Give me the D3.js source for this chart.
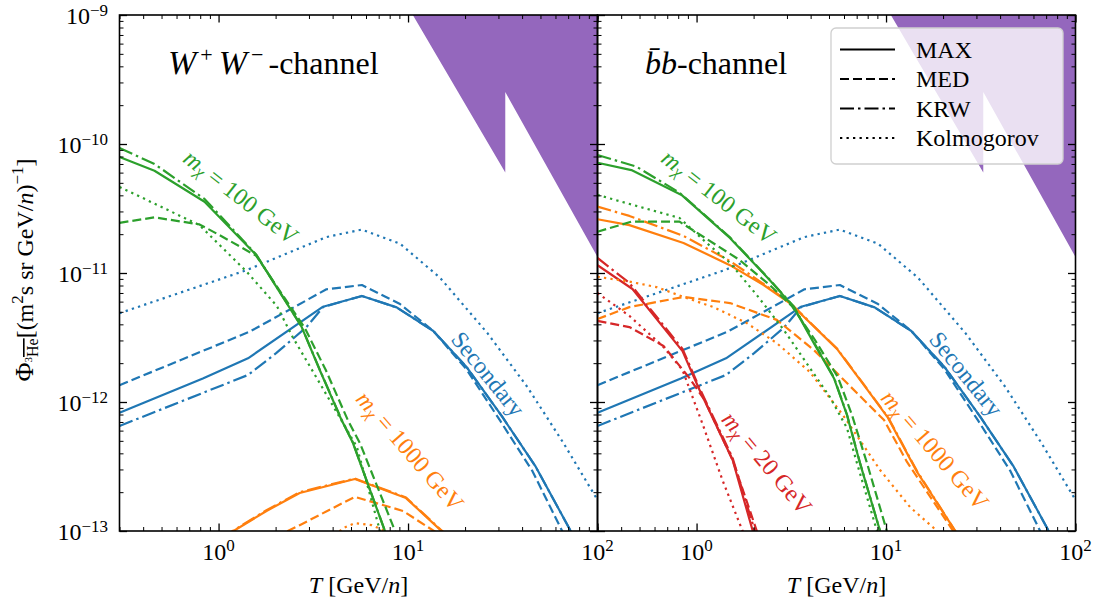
<!DOCTYPE html>
<html><head><meta charset="utf-8">
<script src="https://cdn.jsdelivr.net/npm/d3@7"></script>
<style>
body{margin:0;background:#fff;}
svg{display:block;font-family:"Liberation Serif","DejaVu Serif",serif;}
</style></head><body>
<svg id="c" width="1097" height="602"></svg>
<script>
// ---------------- DATA (T [GeV/n], flux) ----------------
const xTickExps = [0, 1, 2];
const yTickExps = [-13, -12, -11, -10, -9];
const legendLabels = ["MAX", "MED", "KRW", "Kolmogorov"];

// Secondary (same in both panels)
const secMAX = [[0.3,8.26e-13],[0.826,1.52e-12],[1.43,2.18e-12],[3.56,5.48e-12],[5.71,6.64e-12],[8.71,5.41e-12],[13.6,3.55e-12],[20.3,1.88e-12],[31.4,7.69e-13],[47.2,3.15e-13],[72.2,1.0e-13],[83.3,6.5e-14]];
const secMED = [[0.3,1.35e-12],[1.46,3.51e-12],[3.71,7.48e-12],[5.71,8.07e-12],[9.07,5.75e-12],[13.6,3.55e-12],[20.3,1.80e-12],[30.7,7.13e-13],[45.3,2.92e-13],[65.1,1.0e-13],[73.8,6.5e-14]];
const secKRW = [[0.3,6.52e-13],[1.43,1.62e-12],[2.02,2.40e-12],[2.91,3.81e-12],[3.56,5.44e-12],[5.71,6.64e-12],[8.71,5.41e-12],[13.6,3.55e-12],[20.3,1.88e-12],[31.4,7.69e-13],[47.2,3.15e-13],[72.2,1.0e-13],[83.3,6.5e-14]];
const secKol = [[0.3,4.88e-12],[1.40,1.05e-11],[3.71,1.90e-11],[5.69,2.17e-11],[9.07,1.69e-11],[14.8,9.14e-12],[26.2,3.43e-12],[42.6,1.31e-12],[66.1,4.81e-13],[100,1.74e-13]];

// W+W- channel, m = 100 GeV
const wwMAX100 = [[0.3,7.93e-11],[0.459,6.21e-11],[0.843,3.57e-11],[1.58,1.38e-11],[2.74,3.84e-12],[3.42,1.77e-12],[4.46,7.24e-13],[5.12,4.81e-13],[7.55,1.0e-13],[8.54,6.5e-14]];
const wwMED100 = [[0.3,2.45e-11],[0.459,2.70e-11],[0.793,2.38e-11],[1.01,1.97e-11],[1.58,1.36e-11],[2.85,3.75e-12],[3.68,1.77e-12],[4.81,7.24e-13],[5.57,4.81e-13],[8.54,1.0e-13],[9.41,6.5e-14]];
const wwKRW100 = [[0.3,9.31e-11],[0.459,7.00e-11],[0.843,3.75e-11],[1.58,1.39e-11],[2.74,3.86e-12],[3.42,1.78e-12],[4.46,7.3e-13],[5.12,4.85e-13],[7.55,1.0e-13],[8.54,6.5e-14]];
const wwKol100 = [[0.3,4.65e-11],[0.793,2.35e-11],[1.41,1.02e-11],[2.03,5.55e-12],[2.46,3.19e-12],[3.42,1.40e-12],[5.37,4.48e-13],[7.11,1.0e-13],[7.84,5.95e-14]];

// W+W- channel, m = 1000 GeV
const wwMAX1000 = [[1.04,8.8e-14],[1.20,1.0e-13],[1.79,1.43e-13],[2.68,1.97e-13],[5.24,2.53e-13],[9.76,1.80e-13],[14.8,1.02e-13],[17.1,8.6e-14]];
const wwMED1000 = [[2.00,9.0e-14],[2.68,1.11e-13],[5.24,1.84e-13],[9.41,1.43e-13],[13.7,1.0e-13],[15.9,8.8e-14]];
const wwKRW1000 = [[1.04,8.9e-14],[1.20,1.01e-13],[1.79,1.45e-13],[2.68,2.0e-13],[5.24,2.55e-13],[9.76,1.82e-13],[14.8,1.03e-13],[17.1,8.6e-14]];
const wwKol1000 = [[3.87,8.5e-14],[4.53,1.05e-13],[5.24,1.15e-13],[6.45,1.11e-13],[7.55,1.0e-13],[8.54,8.5e-14]];

// bb channel, m = 100 GeV
const bbMAX100 = [[0.3,7.16e-11],[0.453,6.28e-11],[0.833,4.03e-11],[1.50,1.87e-11],[2.43,8.83e-12],[3.26,5.44e-12],[4.16,2.86e-12],[5.31,1.53e-12],[6.22,7.93e-13],[7.28,3.37e-13],[9.30,1.0e-13],[10.0,6.5e-14]];
const bbMED100 = [[0.3,2.09e-11],[0.453,2.50e-11],[0.813,2.50e-11],[1.69,1.26e-11],[2.43,8.07e-12],[3.18,5.55e-12],[4.21,3.03e-12],[5.57,1.56e-12],[6.61,7.93e-13],[7.93,3.37e-13],[10.1,1.0e-13],[10.9,6.5e-14]];
const bbKRW100 = [[0.3,8.22e-11],[0.482,6.67e-11],[0.813,4.19e-11],[1.50,1.89e-11],[2.43,8.9e-12],[3.26,5.5e-12],[4.16,2.9e-12],[5.31,1.55e-12],[6.22,8.0e-13],[7.28,3.4e-13],[9.30,1.0e-13],[10.0,6.5e-14]];
const bbKol100 = [[0.3,4.03e-11],[0.813,2.67e-11],[1.13,1.71e-11],[1.50,1.20e-11],[2.08,6.74e-12],[2.89,3.61e-12],[3.96,1.84e-12],[5.06,1.09e-12],[6.22,6.28e-13],[7.02,3.37e-13],[8.96,1.0e-13],[9.64,6.5e-14]];

// bb channel, m = 1000 GeV
const bbMAX1000 = [[0.3,2.61e-11],[0.442,2.35e-11],[0.853,1.71e-11],[1.50,1.15e-11],[2.26,8.07e-12],[3.10,5.85e-12],[5.51,2.58e-12],[7.65,1.35e-12],[10.25,7.52e-13],[14.6,2.86e-13],[23.2,1.0e-13],[25.2,7.4e-14]];
const bbMED1000 = [[0.3,4.40e-12],[0.442,5.44e-12],[0.853,6.52e-12],[1.50,5.85e-12],[2.65,4.33e-12],[4.16,2.53e-12],[5.71,1.59e-12],[9.76,7.24e-13],[12.9,3.43e-13],[22.6,1.0e-13],[24.6,7.2e-14]];
const bbKRW1000 = [[0.3,3.27e-11],[0.442,2.77e-11],[0.853,1.94e-11],[1.50,1.24e-11],[2.26,8.22e-12],[3.10,5.9e-12],[5.51,2.6e-12],[7.65,1.36e-12],[10.25,7.6e-13],[14.6,2.9e-13],[23.2,1.0e-13],[25.2,7.4e-14]];
const bbKol1000 = [[0.3,9.35e-12],[0.442,8.57e-12],[0.614,7.78e-12],[0.853,6.52e-12],[1.23,5.44e-12],[1.84,4.09e-12],[2.65,2.86e-12],[3.96,1.71e-12],[5.92,7.93e-13],[9.30,2.97e-13],[13.4,1.53e-13],[18.6,1.0e-13],[20.5,7.8e-14]];

// bb channel, m = 20 GeV
const bbMAX20 = [[0.3,1.15e-11],[0.459,7.52e-12],[0.843,2.48e-12],[1.037,1.24e-12],[1.55,3.55e-13],[1.98,1.0e-13],[2.10,7.1e-14]];
const bbMED20 = [[0.3,4.25e-12],[0.442,3.81e-12],[0.669,2.72e-12],[0.918,1.53e-12],[1.10,1.04e-12],[1.55,3.55e-13],[2.08,1.0e-13],[2.21,7.1e-14]];
const bbKRW20 = [[0.3,1.31e-11],[0.442,8.36e-12],[0.843,2.58e-12],[1.037,1.28e-12],[1.55,3.68e-13],[2.03,1.0e-13],[2.15,7.1e-14]];
const bbKol20 = [[0.3,7.00e-12],[0.442,4.65e-12],[0.661,2.72e-12],[0.843,1.77e-12],[1.08,6.64e-13],[1.37,2.48e-13],[1.75,1.0e-13],[1.91,7.1e-14]];

// Excluded / sensitivity region (purple)
const regionT   = [10.6, 100, 100, 32.6, 32.6];
const regionPhi = [1e-9, 1e-9, 1.33e-11, 2.53e-10, 6.0e-11];

// ---------------- STYLE ----------------
const C = {blue:"#1f77b4", orange:"#ff7f0e", green:"#2ca02c", red:"#d62728", purple:"#9467bd"};
const DASH = {MAX:null, MED:"9,4", KRW:"14,4,2.5,4", Kol:"2.3,4.2"};
const LW = 2.2;

const svg = d3.select("#c");
const y = d3.scaleLog().domain([1e-13,1e-9]).range([531,15]);

const panels = [
  {x0:119.5, x1:597.5, curves:[
    [secKol,C.blue,"Kol"],[secKRW,C.blue,"KRW"],[secMED,C.blue,"MED"],[secMAX,C.blue,"MAX"],
    [wwKol1000,C.orange,"Kol"],[wwKRW1000,C.orange,"KRW"],[wwMED1000,C.orange,"MED"],[wwMAX1000,C.orange,"MAX"],
    [wwKol100,C.green,"Kol"],[wwKRW100,C.green,"KRW"],[wwMED100,C.green,"MED"],[wwMAX100,C.green,"MAX"]
  ]},
  {x0:597.5, x1:1075.5, curves:[
    [secKol,C.blue,"Kol"],[secKRW,C.blue,"KRW"],[secMED,C.blue,"MED"],[secMAX,C.blue,"MAX"],
    [bbKol20,C.red,"Kol"],[bbKRW20,C.red,"KRW"],[bbMED20,C.red,"MED"],[bbMAX20,C.red,"MAX"],
    [bbKol1000,C.orange,"Kol"],[bbKRW1000,C.orange,"KRW"],[bbMED1000,C.orange,"MED"],[bbMAX1000,C.orange,"MAX"],
    [bbKol100,C.green,"Kol"],[bbKRW100,C.green,"KRW"],[bbMED100,C.green,"MED"],[bbMAX100,C.green,"MAX"]
  ]}
];

const majorX = xTickExps.map(e => Math.pow(10,e));
const minorX = [];
[-1,0,1].forEach(e => { for (let k=2;k<=9;k++){ const v=k*Math.pow(10,e); if (v>0.3 && v<100) minorX.push(v);} });
const majorY = yTickExps.map(e => Math.pow(10,e));
const minorY = [];
[-13,-12,-11,-10].forEach(e => { for (let k=2;k<=9;k++) minorY.push(k*Math.pow(10,e)); });

function supText(sel, base, exp, raise){
  sel.append("tspan").text(base);
  sel.append("tspan").attr("font-size",17).attr("dy",-raise).text(exp);
}

panels.forEach((p, i) => {
  const x = d3.scaleLog().domain([0.3,100]).range([p.x0,p.x1]);
  const g = svg.append("g");
  const cid = "clip"+i;
  svg.append("defs").append("clipPath").attr("id",cid)
    .append("rect").attr("x",p.x0).attr("y",15).attr("width",p.x1-p.x0).attr("height",516);
  const plot = g.append("g").attr("clip-path",`url(#${cid})`);

  // purple region
  const reg = regionT.map((t,j)=>[t,regionPhi[j]]);
  plot.append("path")
    .attr("d", d3.line().x(d=>x(d[0])).y(d=>y(d[1]))(reg)+"Z")
    .attr("fill", C.purple).attr("stroke","none");

  const line = d3.line().x(d=>x(d[0])).y(d=>y(d[1]));
  p.curves.forEach(([data,col,st]) => {
    plot.append("path").attr("d", line(data))
      .attr("fill","none").attr("stroke",col).attr("stroke-width",LW)
      .attr("stroke-dasharray", DASH[st]).attr("stroke-linejoin","round");
  });

  // axes (inward ticks)
  const tick = (axis, vals, size, w) => gsel => {
    gsel.call(axis.tickValues(vals).tickSize(size).tickFormat(""));
    gsel.select(".domain").remove();
    gsel.selectAll(".tick line").attr("stroke","#000").attr("stroke-width",w);
  };
  g.append("g").attr("transform","translate(0,531)").call(tick(d3.axisBottom(x),majorX,-7.5,1.3));
  g.append("g").attr("transform","translate(0,15)").call(tick(d3.axisTop(x),majorX,-7.5,1.3));
  g.append("g").attr("transform","translate(0,531)").call(tick(d3.axisBottom(x),minorX,-4,1));
  g.append("g").attr("transform","translate(0,15)").call(tick(d3.axisTop(x),minorX,-4,1));
  g.append("g").attr("transform",`translate(${p.x0},0)`).call(tick(d3.axisLeft(y),majorY,-7.5,1.3));
  g.append("g").attr("transform",`translate(${p.x0},0)`).call(tick(d3.axisLeft(y),minorY,-4,1));
  g.append("g").attr("transform",`translate(${p.x1},0)`).call(tick(d3.axisRight(y),majorY,-7.5,1.3));
  g.append("g").attr("transform",`translate(${p.x1},0)`).call(tick(d3.axisRight(y),minorY,-4,1));

  g.append("rect").attr("x",p.x0).attr("y",15).attr("width",p.x1-p.x0).attr("height",516)
    .attr("fill","none").attr("stroke","#000").attr("stroke-width",1.6);

  // x tick labels
  xTickExps.forEach(e => {
    const t = g.append("text").attr("x",x(Math.pow(10,e))).attr("y",560)
      .attr("text-anchor","middle").attr("font-size",24);
    supText(t,"10",String(e),9);
  });
  if (i===0){
    yTickExps.forEach(e => {
      const t = g.append("text").attr("x",108).attr("y",y(Math.pow(10,e))+9)
        .attr("text-anchor","end").attr("font-size",24);
      supText(t,"10","\u2212"+String(-e),8);
    });
  }
  // x axis label
  const xl = g.append("text").attr("x",(p.x0+p.x1)/2).attr("y",593)
    .attr("text-anchor","middle").attr("font-size",24);
  xl.append("tspan").attr("font-style","italic").text("T");
  xl.append("tspan").text(" [GeV/");
  xl.append("tspan").attr("font-style","italic").text("n");
  xl.append("tspan").text("]");
});

// rotated curve labels
function mLabel(cx, cy, ang, val, col){
  const t = svg.append("text").attr("transform",`translate(${cx},${cy}) rotate(${ang})`)
    .attr("text-anchor","middle").attr("dominant-baseline","central")
    .attr("font-size",24).attr("fill",col);
  t.append("tspan").attr("font-style","italic").text("m");
  t.append("tspan").attr("font-style","italic").attr("font-size",17).attr("dy",5).text("\u03C7");
  t.append("tspan").attr("dy",-5).text(" = " + val + " GeV");
}
function plainLabel(cx, cy, ang, txt, col){
  svg.append("text").attr("transform",`translate(${cx},${cy}) rotate(${ang})`)
    .attr("text-anchor","middle").attr("dominant-baseline","central")
    .attr("font-size",24).attr("fill",col).text(txt);
}
mLabel(241,197,38,"100",C.green);
mLabel(410,451,49,"1000",C.orange);
plainLabel(488,374,51,"Secondary",C.blue);
mLabel(719,197,38,"100",C.green);
mLabel(935,450,49,"1000",C.orange);
plainLabel(966,374,51,"Secondary",C.blue);
mLabel(767,463,50,"20",C.red);

// panel titles
const t1 = svg.append("text").attr("x",168).attr("y",74).attr("font-size",32);
t1.append("tspan").attr("font-style","italic").attr("font-size",34).text("W");
t1.append("tspan").attr("font-size",22).attr("dx",4).attr("dy",-12).text("+");
t1.append("tspan").attr("font-style","italic").attr("font-size",34).attr("dx",6).attr("dy",12).text("W");
t1.append("tspan").attr("font-size",22).attr("dx",4).attr("dy",-12).text("\u2212");
t1.append("tspan").attr("dx",5).attr("dy",12).text("-channel");
const t2 = svg.append("text").attr("x",645).attr("y",74).attr("font-size",32);
t2.append("tspan").attr("font-style","italic").text("b\u0304b");
t2.append("tspan").text("-channel");

// y axis label
const yl = svg.append("text").attr("transform","translate(33,270) rotate(-90)")
  .attr("text-anchor","middle").attr("font-size",24);
yl.append("tspan").attr("font-size",26).text("\u03A6");
yl.append("tspan").attr("font-size",11).attr("dy",-1).text("3");
yl.append("tspan").attr("font-size",16).attr("dy",6).style("text-decoration","overline").text("He");
yl.append("tspan").attr("dy",-5).text("[(m");
yl.append("tspan").attr("font-size",17).attr("dy",-10).text("2");
yl.append("tspan").attr("dy",10).text("s sr GeV/");
yl.append("tspan").attr("font-style","italic").text("n");
yl.append("tspan").text(")");
yl.append("tspan").attr("font-size",17).attr("dy",-10).text("\u22121");
yl.append("tspan").attr("dy",10).text("]");

// legend
const lg = svg.append("g");
lg.append("rect").attr("x",831).attr("y",28).attr("width",232).attr("height",136).attr("rx",5)
  .attr("fill","#fff").attr("fill-opacity",0.8).attr("stroke","#cfcfcf").attr("stroke-width",1.3);
const styles = ["MAX","MED","KRW","Kol"];
legendLabels.forEach((lab,j) => {
  const yy = 49.5 + j*29.5;
  lg.append("line").attr("x1",840).attr("x2",895).attr("y1",yy).attr("y2",yy)
    .attr("stroke","#000").attr("stroke-width",LW).attr("stroke-dasharray",DASH[styles[j]]);
  lg.append("text").attr("x",916).attr("y",yy+8).attr("font-size",24).text(lab);
});
</script>
</body></html>
